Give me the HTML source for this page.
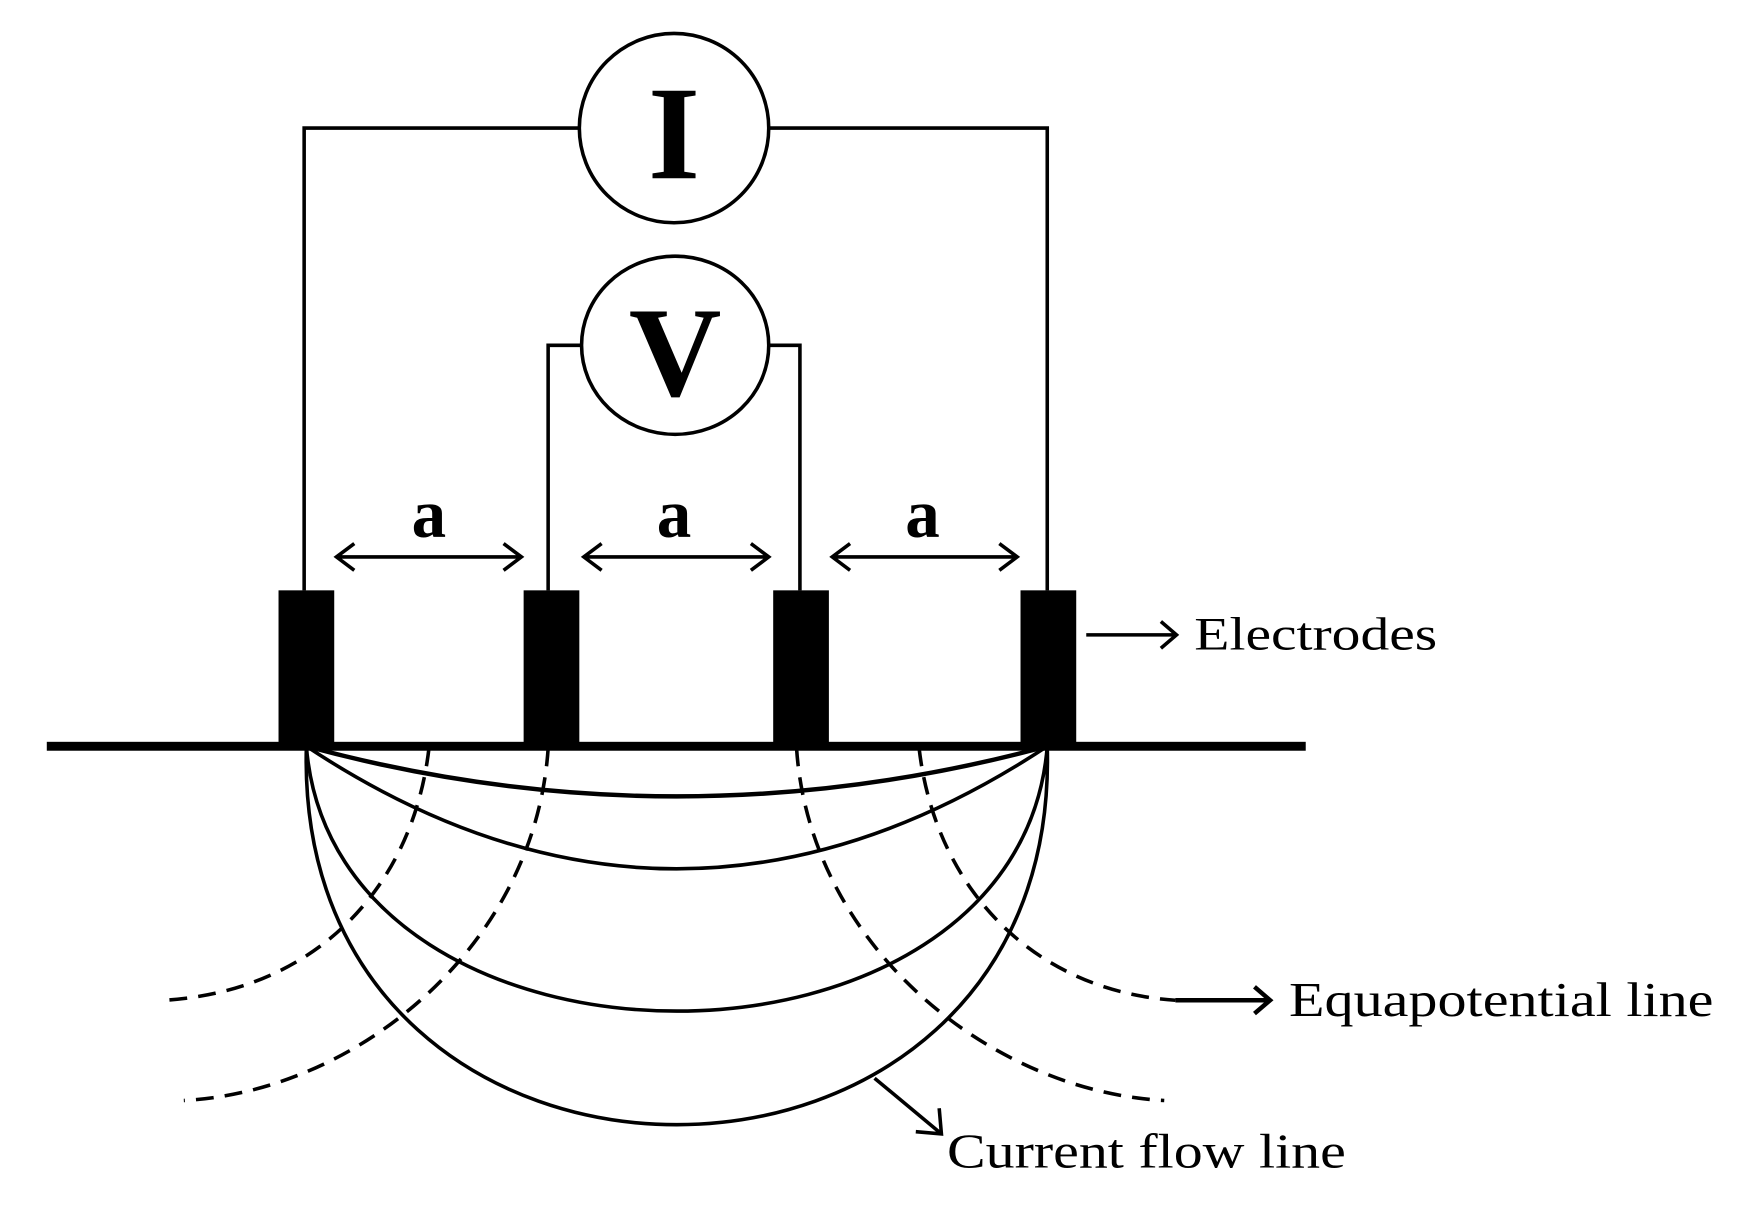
<!DOCTYPE html>
<html><head><meta charset="utf-8"><style>html,body{margin:0;padding:0;background:#fff}svg{display:block}</style></head>
<body>
<svg width="1738" height="1223" viewBox="0 0 1560 1098" preserveAspectRatio="none" xmlns="http://www.w3.org/2000/svg">
<rect width="1560" height="1098" fill="#fff"/>
<g fill="none" stroke="#000" stroke-width="3.2">
<polyline points="273,530 273,115 520,115"/>
<polyline points="690,115 940,115 940,530"/>
<ellipse cx="605" cy="115" rx="85" ry="85"/>
<polyline points="492,530 492,310 522,310"/>
<polyline points="690,310 718,310 718,530"/>
<ellipse cx="606" cy="310" rx="84" ry="80"/>
<path d="M302,500H468M318,488L302,500L318,512M452,488L468,500L452,512"/>
<path d="M524,500H690M540,488L524,500L540,512M674,488L690,500L674,512"/>
<path d="M747,500H913M763,488L747,500L763,512M897,488L913,500L897,512"/>
<path d="M975,570H1056M1042,558L1056,570L1042,582"/>
<path d="M1055,898H1140M1126,886L1140,898L1126,910" stroke-width="4"/>
<path d="M785,968L845,1018M822,1016L845,1018L843,995"/>
<path d="M275,670 Q607,760 940,670" stroke-width="4"/>
<path d="M275,670 Q607,890 940,670"/>
<path d="M275,670 C300,987 915,987 940,670"/>
<path d="M275,670 C262,1123 953,1123 940,670"/>
<g stroke-dasharray="16,10">
<path d="M385,672 C370,800 280,890 148,898"/>
<path d="M492,672 C480,850 320,980 165,988"/>
<path d="M825,672 C840,800 930,890 1055,898"/>
<path d="M715,672 C727,850 890,980 1045,988"/>
</g>
</g>
<rect x="42" y="666" width="1130" height="8" fill="#000"/>
<rect x="250" y="530" width="50" height="140" fill="#000"/>
<rect x="470" y="530" width="50" height="140" fill="#000"/>
<rect x="694" y="530" width="50" height="140" fill="#000"/>
<rect x="916" y="530" width="50" height="140" fill="#000"/>
<g font-family="Liberation Serif, serif" fill="#000">
<text x="605" y="160" font-size="120" font-weight="bold" text-anchor="middle">I</text>
<text x="606" y="355" font-size="115" font-weight="bold" text-anchor="middle">V</text>
<text x="385" y="482" font-size="62" font-weight="bold" text-anchor="middle">a</text>
<text x="605" y="482" font-size="62" font-weight="bold" text-anchor="middle">a</text>
<text x="828" y="482" font-size="62" font-weight="bold" text-anchor="middle">a</text>
<text x="1072" y="583" font-size="42" textLength="218" lengthAdjust="spacingAndGlyphs">Electrodes</text>
<text x="1157" y="912" font-size="44" textLength="381" lengthAdjust="spacingAndGlyphs">Equapotential line</text>
<text x="850" y="1048" font-size="44" textLength="358" lengthAdjust="spacingAndGlyphs">Current flow line</text>
</g>
</svg>
</body></html>
